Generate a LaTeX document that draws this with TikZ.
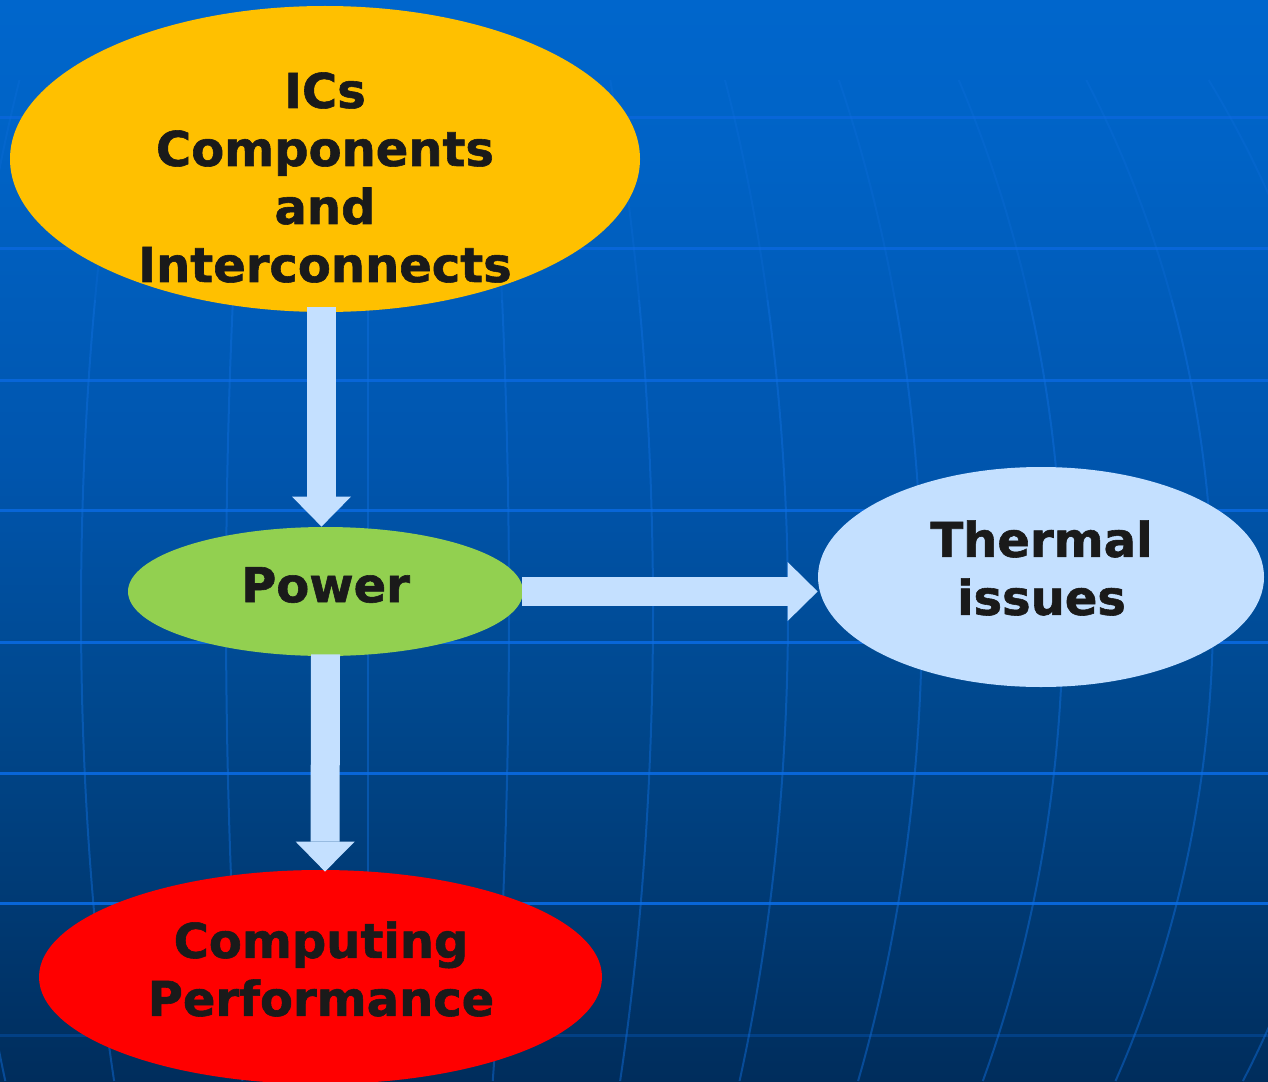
\documentclass[tikz,border=0pt]{standalone}
\usepackage{fontspec}
\setmainfont{DejaVu Sans}[BoldFeatures={FakeBold=1.2}]
\usetikzlibrary{shapes.geometric,arrows.meta,calc}
\definecolor{icsyellow}{HTML}{FFC000}
\definecolor{powgreen}{HTML}{92D050}
\definecolor{lightblue}{HTML}{C4E0FF}
\definecolor{perfred}{HTML}{FF0000}
\definecolor{txt}{HTML}{1A1A1A}
\definecolor{hline}{HTML}{0866D8}
\definecolor{vline}{HTML}{1070E0}
\definecolor{bg0}{HTML}{002D5C}
\definecolor{bg1}{HTML}{003A74}
\definecolor{bg2}{HTML}{00488E}
\definecolor{bg3}{HTML}{0055AD}
\definecolor{bg4}{HTML}{0063C6}
\definecolor{bg5}{HTML}{0066CC}
\pgfdeclareverticalshading{bgshade}{100bp}{color(0bp)=(bg0); color(25bp)=(bg0); color(33.3bp)=(bg1); color(42.6bp)=(bg2); color(53.3bp)=(bg3); color(68.1bp)=(bg4); color(75bp)=(bg5); color(100bp)=(bg5)}
\begin{document}
\begin{tikzpicture}[x=0.5pt,y=-0.5pt,
  ell/.style={ellipse,draw=none,inner sep=0pt},
  lbl/.style={text=txt,align=center,inner sep=0pt,font=\fontsize{24}{29}\selectfont\bfseries},
  blockarrow/.style={draw=lightblue,line width=14.5pt,line cap=butt,
    -{Triangle[length=15pt 0 0,width=29.5pt 0,line width=0pt 0]}},
  meridian/.style={draw=vline,line width=1pt,opacity=0.45},
  parallel/.style={draw=hline,line width=1.5pt}]
\useasboundingbox (0,0) rectangle (1268,1081);
% background
\shade[shading=bgshade] (0,0) rectangle (1268,1081);
\begin{scope}
\clip (0,0) rectangle (1268,1081);
\foreach \yy in {118,248,380,510,642,773,903}{
  \draw[parallel] (0,\yy) -- (1268,\yy);
}
\draw[parallel,opacity=0.3] (0,1035) -- (1268,1035);
\foreach \d in {-410,-287,-142,0,141,285,420,554,695,845,989}{
  \draw[meridian,opacity=0.25] plot[domain=80:300,samples=15,smooth] ({368+\d*sqrt(1-((\x-611)/1008)^2)},\x);
  \draw[meridian] plot[domain=300:1081,samples=45,smooth] ({368+\d*sqrt(1-((\x-611)/1008)^2)},\x);
}
\end{scope}
% ellipses
\node[ell,fill=icsyellow,minimum width=315pt,minimum height=153pt] (ics) at (325,159) {};
\node[ell,fill=powgreen,minimum width=197.5pt,minimum height=64.5pt] (power) at (325.5,591.5) {};
\node[ell,fill=lightblue,minimum width=223pt,minimum height=110pt] (thermal) at (1041,577) {};
\node[ell,fill=perfred,minimum width=281.5pt,minimum height=107pt] (perf) at (320.5,977) {};
% texts
\node[lbl] (icsT) at (325,177.5) {ICs\\Components\\and\\Interconnects};
\node[lbl] (powerT) at (325.5,585) {Power};
\node[lbl] (thermalT) at (1041.5,568) {Thermal\\issues};
\node[lbl] (perfT) at (321,969) {Computing\\Performance};
% arrows
\draw[blockarrow] ($(ics.south)+(-3.5,-5)$) -- ($(power.north)+(-4,0)$);
\draw[blockarrow] ($(power.east)+(-1,0)$) -- (power.east -| thermal.west);
\draw[blockarrow] ($(power.south)+(0,-2)$) -- ($(perf.north)+(4.5,2)$);
\end{tikzpicture}
\end{document}
